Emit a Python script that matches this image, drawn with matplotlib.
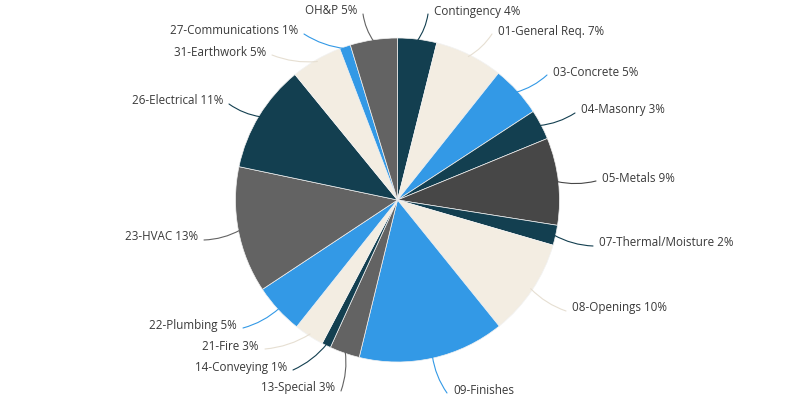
import numpy as np
import matplotlib
matplotlib.use('Agg')
import matplotlib.pyplot as plt

# slice values in percent, clockwise from 12 o'clock
categories = ["Contingency", "01-General Req.", "03-Concrete", "04-Masonry", "05-Metals",
              "07-Thermal/Moisture", "08-Openings", "09-Finishes", "13-Special", "14-Conveying",
              "21-Fire", "22-Plumbing", "23-HVAC", "26-Electrical", "31-Earthwork",
              "27-Communications", "OH&P"]
values = [3.9, 6.8, 5.1, 3.0, 8.7, 2.0, 9.7, 14.6, 3.0, 0.9, 3.0, 5.0, 12.6, 10.8, 5.1, 1.1, 4.7]
show_pct = [True] * 7 + [False] + [True] * 9

NAVY, CREAM, BLUE, DARK, GRAY = "#133f50", "#f3ede2", "#3399e6", "#474747", "#636363"
colors = [NAVY, CREAM, BLUE, NAVY, DARK, NAVY, CREAM, BLUE, GRAY, NAVY,
          CREAM, BLUE, GRAY, NAVY, CREAM, BLUE, GRAY]
line_colors = [c if c != CREAM else "#e6dfd2" for c in colors]

# label layout in pixels: (x anchor, y centre, side)
label_pos = [(434, 11, "l"), (498, 31, "l"), (553, 72, "l"), (581, 110, "l"), (602, 178, "l"),
             (599, 243, "l"), (572, 308, "l"), (453, 390, "l"), (335, 388, "r"), (287, 367, "r"),
             (259, 346, "r"), (237, 325, "r"), (198, 237, "r"), (223, 101, "r"), (266, 52, "r"),
             (298, 31, "r"), (357, 11, "r")]

W, H = 799, 396
cx, cy, R = 397.5, 200, 162

fig = plt.figure(figsize=(W / 100, H / 100), dpi=100)
ax = fig.add_axes([0, 0, 1, 1])

wedges, _ = ax.pie(values, colors=colors, startangle=-90, counterclock=True,
                   center=(cx, cy), radius=R,
                   wedgeprops=dict(edgecolor="#f2f2f2", linewidth=0.5))
ax.set_xlim(0, W)
ax.set_ylim(H, 0)
ax.set_aspect("equal")
ax.axis("off")

total = sum(values)
cum = np.cumsum([0] + values)
for i, name in enumerate(categories):
    mid = np.deg2rad(-90 + 360 * (cum[i] + values[i] / 2) / total)
    sx, sy = cx + (R - 2) * np.cos(mid), cy + (R - 2) * np.sin(mid)
    tx, ty, side = label_pos[i]
    txt = f"{name} {round(values[i])}%" if show_pct[i] else name
    ha = "left" if side == "l" else "right"
    ax.text(tx, ty, txt, ha=ha, va="center", fontsize=8.4, color="#3a3a3a",
            family=["Open Sans", "DejaVu Sans"])
    ex = tx - 6 if side == "l" else tx + 6
    ey = ty + 3
    rad = -0.12 if side == "l" else 0.12
    ax.annotate("", xy=(sx, sy), xytext=(ex, ey),
                arrowprops=dict(arrowstyle="-", color=line_colors[i], lw=0.8,
                                connectionstyle=f"arc3,rad={rad}",
                                shrinkA=0, shrinkB=0))

fig.savefig("out.png", dpi=100, facecolor="white")
